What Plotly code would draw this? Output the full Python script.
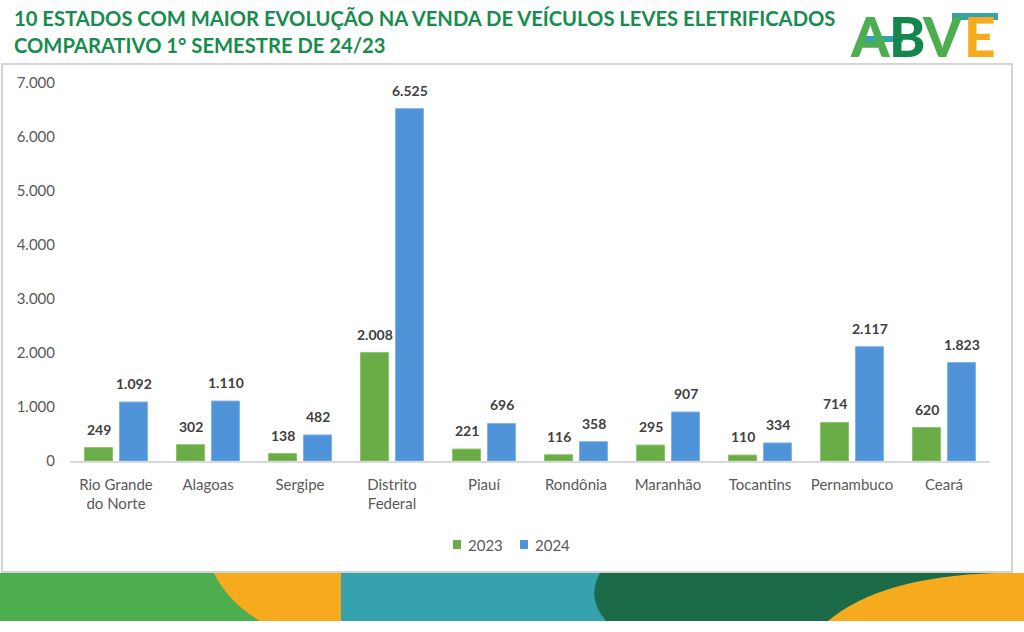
import plotly.graph_objects as go

categories = ["Rio Grande<br>do Norte", "Alagoas", "Sergipe", "Distrito<br>Federal", "Piauí",
              "Rondônia", "Maranhão", "Tocantins", "Pernambuco", "Ceará"]
sales_2023 = [249, 302, 138, 2008, 221, 116, 295, 110, 714, 620]
sales_2024 = [1092, 1110, 482, 6525, 696, 358, 907, 334, 2117, 1823]
series_names = ["2023", "2024"]
y_ticks = [0, 1000, 2000, 3000, 4000, 5000, 6000, 7000]

W, H = 1024, 632
L, R, T, B = 70, 34, 83, 171
PW, PH = W - L - R, H - T - B

def px(x):
    return (x - L) / PW

def py(y):
    return (H - B - y) / PH

GREEN = "#6aad46"
BLUE = "#4f94d9"
LABEL = "#404040"
AXIS_TXT = "#595959"
colors = [GREEN, BLUE]

fig = go.Figure()
fig.add_trace(go.Bar(x=categories, y=sales_2023, name=series_names[0],
                     marker=dict(color=GREEN, line=dict(color="#8cc46c", width=1))))
fig.add_trace(go.Bar(x=categories, y=sales_2024, name=series_names[1],
                     marker=dict(color=BLUE, line=dict(color="#7fb2e6", width=1))))

def fmt(v):
    return f"{v:,}".replace(",", ".")

annotations = []
for cat, v23, v24 in zip(categories, sales_2023, sales_2024):
    for v, shift in ((v23, -17.5), (v24, 17.5)):
        annotations.append(dict(x=cat, y=v, xref="x", yref="y", text=fmt(v),
                                showarrow=False, xshift=shift, yshift=8, yanchor="bottom",
                                font=dict(family="Lato", size=14, color=LABEL, weight=700)))

TITLE_C = "#178c4e"
annotations.append(dict(x=px(12), y=py(18), xref="paper", yref="paper", xanchor="left", yanchor="middle",
                        text="10 ESTADOS COM MAIOR EVOLUÇÃO NA VENDA DE VEÍCULOS LEVES ELETRIFICADOS",
                        showarrow=False, font=dict(family="Lato", size=20.2, color=TITLE_C, weight=700)))
annotations.append(dict(x=px(12), y=py(45), xref="paper", yref="paper", xanchor="left", yanchor="middle",
                        text="COMPARATIVO 1° SEMESTRE DE 24/23",
                        showarrow=False, font=dict(family="Lato", size=20.2, color=TITLE_C, weight=700)))

# logo letters
for letter, cx, col in (("A", 870, "#4cae4f"), ("B", 907, "#13874b"), ("V", 942, "#4cae4f"), ("E", 980, "#f6ab1e")):
    annotations.append(dict(x=px(cx), y=py(36), xref="paper", yref="paper", xanchor="center", yanchor="middle",
                            text=letter, showarrow=False,
                            font=dict(family="Lato", size=55, color=col, weight=900)))

shapes = []
# frame
shapes.append(dict(type="rect", xref="paper", yref="paper", x0=px(2), x1=px(1012), y0=py(64), y1=py(572),
                   line=dict(color="#d4d4d4", width=2), fillcolor="rgba(0,0,0,0)", layer="below"))

# custom legend (series names + colours)
legend_x = [453, 520]
for name, col, lx in zip(series_names, colors, legend_x):
    shapes.append(dict(type="rect", xref="paper", yref="paper", x0=px(lx), x1=px(lx + 8),
                       y0=py(549), y1=py(540), fillcolor=col, line=dict(width=0)))
    annotations.append(dict(x=px(lx + 13), y=py(545), xref="paper", yref="paper", xanchor="left",
                            yanchor="middle", text=name, showarrow=False,
                            font=dict(family="Lato", size=15, color=AXIS_TXT)))

def path(points, closing=True):
    s = ""
    for cmd, pts in points:
        s += cmd + " ".join(f"{px(a):.5f},{py(b):.5f}" for a, b in pts) + " "
    return s + ("Z" if closing else "")

# logo teal bars
shapes.append(dict(type="rect", xref="paper", yref="paper", x0=px(864), x1=px(903), y0=py(36), y1=py(42),
                   fillcolor="#35a2ae", line=dict(width=0)))
shapes.append(dict(type="rect", xref="paper", yref="paper", x0=px(952), x1=px(998), y0=py(13), y1=py(20),
                   fillcolor="#35a2ae", line=dict(width=0)))

# bottom band
top, bot = 573, 621
shapes.append(dict(type="rect", xref="paper", yref="paper", x0=px(0), x1=px(341), y0=py(bot), y1=py(top),
                   fillcolor="#4cae4f", line=dict(width=0)))
shapes.append(dict(type="path", xref="paper", yref="paper",
                   path=path([("M", [(214, top)]), ("Q", [(228, 602), (260, bot)]), ("L", [(341, bot)]),
                              ("L", [(341, top)])]),
                   fillcolor="#f6ab1e", line=dict(width=0)))
shapes.append(dict(type="rect", xref="paper", yref="paper", x0=px(341), x1=px(620), y0=py(bot), y1=py(top),
                   fillcolor="#35a2ae", line=dict(width=0)))
shapes.append(dict(type="path", xref="paper", yref="paper",
                   path=path([("M", [(600, top)]), ("Q", [(586, 598), (606, bot)]), ("L", [(1024, bot)]),
                              ("L", [(1024, top)])]),
                   fillcolor="#1b6a48", line=dict(width=0)))
shapes.append(dict(type="path", xref="paper", yref="paper",
                   path=path([("M", [(828, bot)]), ("Q", [(880, 577), (995, top)]), ("L", [(1024, top)]),
                              ("L", [(1024, bot)])]),
                   fillcolor="#f6ab1e", line=dict(width=0)))

fig.update_layout(
    width=W, height=H,
    margin=dict(l=L, r=R, t=T, b=B),
    paper_bgcolor="white", plot_bgcolor="white",
    separators=",.",
    barmode="group", bargap=0.24, bargroupgap=0.2,
    font=dict(family="Lato", color=AXIS_TXT),
    showlegend=False,
    annotations=annotations,
    shapes=shapes,
    xaxis=dict(showline=True, linecolor="#d9d9d9", linewidth=1.5, ticks="", showgrid=False,
               tickfont=dict(family="Lato", size=15, color=AXIS_TXT), ticklabelstandoff=9,
               fixedrange=True),
    yaxis=dict(range=[0, 7000], tickvals=y_ticks, tickformat=",d", showgrid=False, zeroline=False,
               showline=False, ticks="", tickfont=dict(family="Lato", size=15, color=AXIS_TXT),
               ticklabelstandoff=14, fixedrange=True),
)

fig.write_html("out.html")
